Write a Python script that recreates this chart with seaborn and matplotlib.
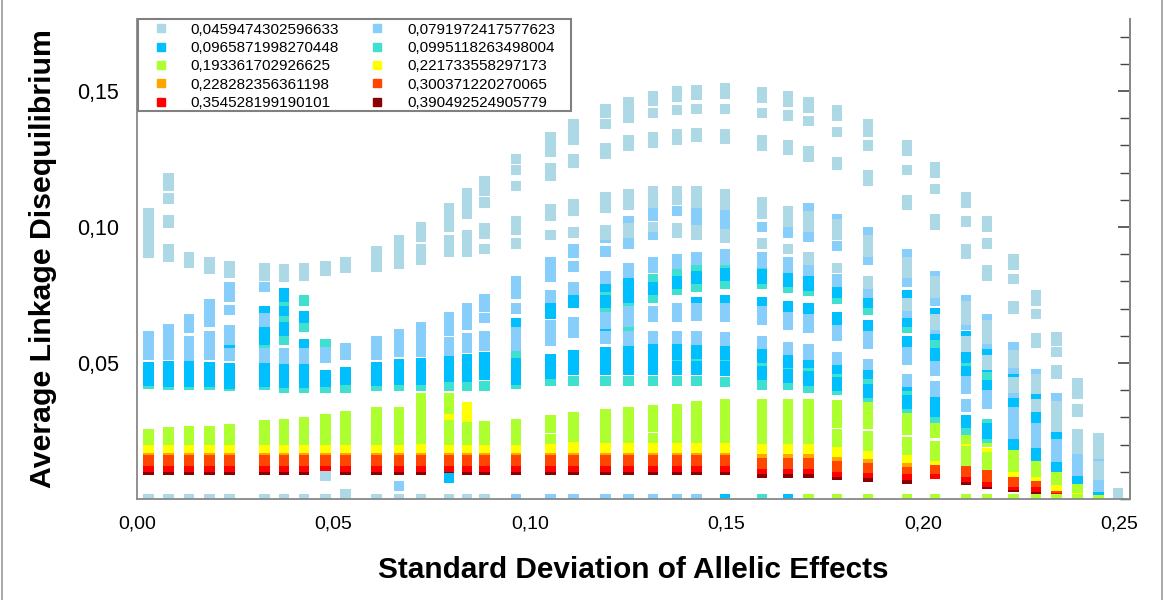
import matplotlib
matplotlib.use("Agg")
import matplotlib.pyplot as plt
from matplotlib import font_manager
from matplotlib.ticker import FixedLocator, MultipleLocator, FuncFormatter
from matplotlib.lines import Line2D
from matplotlib.patches import Rectangle
import pandas as pd
import seaborn as sns

# Standard deviation of allelic effects (one column of markers per value)
sd_effects = [0.0029, 0.0080, 0.0133, 0.0184, 0.0235, 0.0324, 0.0374, 0.0425, 0.0480, 0.0531,
              0.0609, 0.0667, 0.0723, 0.0794, 0.0840, 0.0884, 0.0965, 0.1052, 0.1111, 0.1192,
              0.1251, 0.1313, 0.1374, 0.1424, 0.1497, 0.1591, 0.1656, 0.1709, 0.1781, 0.1861,
              0.1960, 0.2031, 0.2110, 0.2163, 0.2231, 0.2288, 0.2340, 0.2393, 0.2447, 0.2497]

series_labels = ["0,0459474302596633", "0,0791972417577623", "0,0965871998270448",
                 "0,0995118263498004", "0,193361702926625", "0,221733558297173",
                 "0,228282356361198", "0,300371220270065", "0,354528199190101",
                 "0,390492524905779"]
series_colors = ["#ADD8E6", "#87CEFA", "#00BFFF", "#40E0D0", "#ADFF2F",
                 "#FFFF00", "#FFA500", "#FF4500", "#FF0000", "#8B0000"]

# Average linkage disequilibrium (x 1e-3), one list per SD column
ld_0459 = [[0, 105, 102, 98, 95, 92, 90.5], [0, 118, 115, 110.5, 102.5, 101.5, 92, 89], [0, 89, 87],
           [0, 87, 84.5], [0, 85.5, 83], [0, 85, 82], [0, 84.5, 81.7], [0, 85, 82], [0, 85.7, 84, 8.4],
           [0, 1.8, 87, 85], [0, 91, 88, 85.5], [0, 95, 92, 89, 86.5], [0, 100, 96.5, 92, 88],
           [0, 107, 103.5, 100, 95, 91], [0, 112.5, 109, 105, 97, 95, 91],
           [0, 117, 113.5, 109, 99.5, 97.5, 92], [125, 121, 115, 102, 99, 94],
           [133, 130, 127.5, 121.5, 119, 106.5, 104, 97], [138, 135.5, 132, 125, 123.5, 108.5, 106, 98],
           [143.5, 142, 138, 129, 127, 111, 108.5, 107, 99, 97], [146, 144, 140, 132, 130, 112, 110, 108, 99.5, 98],
           [148, 146.5, 142, 133, 131, 113, 110.5, 109, 100], [150, 148, 143, 134, 132, 113, 111, 110, 99.5, 98],
           [150.5, 148.5, 143.5, 134.5, 133, 113, 111, 109, 99, 97], [151, 149, 143.5, 134, 132.5, 112, 110, 108, 97.5, 96],
           [149.5, 147.5, 142, 132, 130, 109, 107, 105, 94], [148, 146, 141, 130, 128.5, 106, 103.5, 102, 92],
           [146, 144, 139, 128, 126, 104, 102, 100, 89, 88], [143, 141, 135, 124, 123, 101, 98, 97, 85],
           [138, 135, 130, 119, 117, 95, 92, 91, 80, 79], [130, 128, 121, 110, 108, 87, 84, 83, 72, 71],
           [122, 120, 114, 103, 101, 80, 77, 76, 66, 64], [111, 109, 102, 92, 90, 71, 68, 66, 58, 56],
           [102, 100, 94, 84, 82, 64, 61, 59, 51, 49.5], [88, 86, 81, 71, 70, 53, 51, 50, 43, 41],
           [75, 73, 68, 59, 57.5, 44, 42, 40.5, 35, 34], [59.5, 58, 54, 47.5, 46, 34, 31.5, 28, 26.5],
           [42.5, 40, 38.5, 33, 32, 24, 21.5, 18.5], [22.5, 19.5, 16.5, 12, 10, 9], [2, 0.8]]

ld_0792 = [[60, 57, 54, 53], [62.5, 59, 56, 53], [66, 63, 58, 55, 52.5], [71.5, 68, 65, 60, 56.5, 53],
           [78, 74.5, 69.5, 62, 58.5, 53.5, 52.5], [78, 66.5, 65, 53.5, 52], [53.5, 51.5], [53.5, 51.5],
           [54, 52], [55.5, 53], [58, 55.5, 53], [60.5, 57, 54, 4.8], [63, 60, 56.5, 54],
           [67, 64, 62, 57.5, 54.5], [70, 67, 64, 59, 55.5], [73.5, 70.5, 66.5, 60, 56.5],
           [0, 80, 77, 75.5, 70, 61.5, 58.5, 56.5], [0, 87, 85.5, 81.7, 75, 74, 64, 62, 58],
           [0, 92, 90.5, 85.5, 78, 77, 65, 62, 61], [0, 96, 91, 82, 81, 67, 64.5, 60, 59],
           [0, 102, 94, 85, 83, 69, 66, 65, 60, 58], [0, 105.5, 104, 97, 87, 85, 69, 67, 60, 59],
           [0, 106, 88, 86.5, 70, 67, 60, 59], [0, 106, 102, 89, 88, 70, 67.5, 60, 58.5],
           [105, 101, 90, 88, 70, 67, 59.5, 58], [100, 89, 87, 69, 66, 58, 57], [98, 87, 85, 67, 64, 56, 55],
           [107, 96.5, 85, 84, 66, 63, 55, 53], [103, 93, 81, 80, 62, 60, 52, 51],
           [98, 88, 76, 60, 57, 49.5], [90, 80, 68.5, 54, 51, 44, 43], [82, 73, 62.5, 49, 47, 41.5, 39.5],
           [73, 64, 43.5, 40.5, 35, 34], [66, 57, 38, 35], [56, 48, 39, 32, 29.5, 26, 24],
           [46, 26, 24, 20.5], [37, 20, 17, 15.5], [14.5, 12, 10.5], [14, 5.5, 4.5], []]

ld_0966 = [[48.5, 46, 43.5], [49, 46, 43], [49, 46, 43], [48.5, 46, 43], [56, 48, 45.5, 42.5],
           [69, 61.5, 58.5, 48, 45.5, 43], [75.8, 74.4, 69.2, 63, 62, 48, 45, 42.8],
           [67.4, 66.6, 56.8, 48.5, 45, 42.8], [45.4, 43], [46.5, 44], [48.5, 46, 43.5], [49.5, 47, 44],
           [50, 47, 44], [51, 48, 45, 7.7], [51.5, 48.5, 45], [52, 49, 45.5], [64.5, 50, 47, 44],
           [70, 68, 51.5, 48.5, 46], [73, 72, 53, 50, 47.5], [78, 73, 72, 62.5, 54, 51, 47.6],
           [80, 76, 74, 55, 52, 49, 47.5], [78, 77, 55, 52, 49, 47.5], [80, 79, 55, 53, 49, 47.5],
           [82, 81, 72.5, 56, 53.5, 49, 47.5], [0, 83, 82, 73, 55, 53, 48.7, 47],
           [82.5, 81, 72.5, 54, 52, 47, 45.5], [0, 81.5, 80, 71, 70, 52, 50, 46, 44.5],
           [80, 78.5, 70, 68.5, 51, 50, 45, 43.5], [78, 76, 67, 66, 49, 48, 43, 41.5],
           [73.5, 72, 64, 62.5, 46, 40.5, 39], [75, 66, 65, 58, 57, 41.8, 36.5, 35],
           [68.5, 60.5, 53.5, 51, 36.5, 33.5, 32], [60, 53, 52, 47, 45.5, 29, 28],
           [54, 48.5, 42, 41, 26, 24], [46, 36, 35, 21, 20], [38, 30, 29, 17, 16], [23.5, 12.5, 12],
           [8.5, 7.5], [3.5], []]

ld_0995 = [[42.5], [42], [42], [42], [41.5], [55.5, 42], [72, 66, 58.6, 41], [73, 63.4, 41],
           [56.8, 41], [41], [41.5], [41.5], [41.5], [41.5], [41.5], [41.5], [53.5, 42.5], [43.5],
           [43.5], [75, 70, 62, 43.5], [78, 71.5, 63, 43.5], [81, 74, 43.5], [83, 77, 51, 43.5],
           [85, 78, 51, 43.5], [85.5, 79, 51, 43], [0, 84, 79, 50, 42], [77.5, 49, 42],
           [76.5, 48.5, 41], [73.5, 46, 40], [69.5, 44, 37.5], [63, 40, 33.5], [57, 35.5, 30],
           [50.5, 25.6], [45.5, 27.5, 22.5], [38.5], [], [], [], [], []]

ld_1934 = [[24, 21.6], [24.5, 21.6], [24.8, 21.6], [25, 21.6], [25.6, 23, 21.6], [27, 24, 21.6],
           [27.5, 24.5, 21.6], [28.2, 25, 21.6], [29.3, 26.4, 23.5, 21.6], [30.4, 27.5, 24.5, 21.6],
           [32, 29, 26, 23, 21.6], [32, 29, 26, 23, 21.6], [37, 34, 31, 28, 25, 22],
           [37, 33, 27, 24, 21.6], [26.5, 23.5, 21.6], [26.8, 23.5, 21.6], [27.5, 24.5, 21.6],
           [29, 26, 22], [30, 27, 23], [31, 28, 25, 22.5], [32, 29, 26, 22.5], [32.5, 29.5, 26.5, 22.5],
           [33, 30, 27, 24, 22.5], [34, 31, 28, 25, 22.5], [35, 32, 29, 26, 22.5],
           [35, 32, 28.5, 25, 22], [35, 32, 28.5, 25, 22], [0, 35, 32, 28.5, 25, 22],
           [0, 34.5, 31.5, 28, 24, 21], [0, 34, 31, 27.5, 23, 19.5], [0, 32, 29, 25.5, 21, 18],
           [0, 28, 24.5, 19.4, 16], [0, 24.5, 22, 17.5, 14], [0, 21, 15.5, 12.5], [0, 17, 13.5, 12],
           [0, 12.5, 10], [0, 9, 7], [0, 5, 4], [0, 2.2], []]

ld_2217 = [[19], [19], [19], [19], [19], [19], [19], [19], [19], [19], [19], [19], [19],
           [29.3, 19], [33.7, 31, 29.5, 19], [19], [19], [19], [19], [19], [19], [19], [19], [19],
           [19], [18.5], [18.5], [18.5], [17.5], [16.5], [15], [14.3], [19], [17], [10], [8.5], [5],
           [2.5], [], []]

ld_2283 = [[18], [18], [18], [18], [18], [18], [18], [18], [18], [18], [18], [18], [18], [18],
           [18], [18], [18], [18], [18], [18], [18], [18], [18], [18], [18], [17], [17], [17], [16],
           [15], [13.5], [], [], [], [], [], [], [], [], []]

ld_3004 = [[15.4, 14], [15.4, 14], [15.4, 14], [15.4, 14], [15.4, 14], [15.4, 14], [15.4, 14],
           [15.4, 14], [15.4, 14], [15.4, 14], [15.4, 14], [15.4, 14], [15.4, 14], [15.4, 14],
           [15.4, 14], [15.4, 14], [15.4, 14], [15.4, 14], [15.4, 14], [15.4, 14], [15.4, 14],
           [15.4, 14], [15.4, 14], [15.4, 14], [15.4, 14], [14.5, 13], [14.5, 13], [14.5, 13],
           [14, 12], [13.5, 11.5], [12, 11], [11], [11.5, 10], [9.5, 8], [7.5, 6.5], [6.5], [4],
           [2.2], [], []]

ld_3545 = [[11.7], [11.7], [11.7], [11.7], [11.7], [11.7], [11.7], [11.7], [11.7], [11.7], [11.7],
           [11.7], [11.7], [11.7], [11.7], [11.7], [11.7], [11.7], [11.7], [11.7], [11.7], [11.7],
           [11.7], [11.7], [11.7], [11], [11], [11], [10], [9.5], [8.8], [9.2], [8], [6.4], [5.2],
           [4.5], [3], [1.2], [], []]

ld_3905 = [[10.6], [10.6], [10.6], [10.6], [10.6], [10.6], [10.6], [10.6], [10.6], [10.6], [10.6],
           [10.6], [10.6], [10.6], [10.6], [10.6], [10.6], [10.6], [10.6], [10.6], [10.6], [10.6],
           [10.6], [10.6], [10.6], [9.8], [9.8], [9.8], [8.8], [8], [7.3], [], [7], [5.7], [4.5],
           [3.5], [], [], [], []]

series_values = [ld_0459, ld_0792, ld_0966, ld_0995, ld_1934,
                 ld_2217, ld_2283, ld_3004, ld_3545, ld_3905]

# Long-format table; the last series in the legend is painted first
rows = []
for label, columns in zip(series_labels[::-1], series_values[::-1]):
    for sd, column in zip(sd_effects, columns):
        for v in column:
            rows.append((sd, v / 1000.0, label))
df = pd.DataFrame(rows, columns=["sd", "ld", "series"])

sns.set_style("white")
installed = {f.name for f in font_manager.fontManager.ttflist}
narrow = "Liberation Sans Narrow" if "Liberation Sans Narrow" in installed else "Liberation Sans"
plt.rcParams["font.family"] = ["Liberation Sans", "DejaVu Sans"]
plt.rcParams["text.color"] = "black"
plt.rcParams["axes.labelcolor"] = "black"
plt.rcParams["xtick.color"] = "black"
plt.rcParams["ytick.color"] = "black"

fig = plt.figure(figsize=(11.65, 6.0), dpi=100)
ax = fig.add_axes([137 / 1165, 101 / 600, 993 / 1165, 480 / 600])

sns.scatterplot(data=df, x="sd", y="ld", hue="series",
                palette=dict(zip(series_labels, series_colors)),
                marker="s", s=56, linewidth=0,
                legend=False, ax=ax)

ax.set_xlim(0, 0.2527)
ax.set_ylim(0, 0.1765)

comma = FuncFormatter(lambda v, _: f"{v:.2f}".replace(".", ","))
ax.xaxis.set_major_locator(MultipleLocator(0.05))
ax.xaxis.set_minor_locator(MultipleLocator(0.01))
ax.yaxis.set_major_locator(FixedLocator([0.05, 0.10, 0.15]))
ax.yaxis.set_minor_locator(MultipleLocator(0.01))
ax.xaxis.set_major_formatter(comma)
ax.yaxis.set_major_formatter(comma)

ax.tick_params(axis="x", which="major", direction="inout", length=14, width=1.2,
               color="#444444", labelcolor="black", pad=5, labelsize=14)
ax.tick_params(axis="x", which="minor", direction="inout", length=8, width=1,
               color="#444444")
ax.tick_params(axis="y", which="major", direction="inout", length=14, width=1.2,
               color="#444444", labelcolor="black", pad=6, labelsize=15.5)
ax.tick_params(axis="y", which="minor", direction="inout", length=8, width=1,
               color="#444444")
for lab in ax.get_xticklabels():
    lab.set_family([narrow, "Liberation Sans"])

right = ax.secondary_yaxis("right")
right.yaxis.set_major_locator(FixedLocator([0.05, 0.10, 0.15]))
right.yaxis.set_minor_locator(MultipleLocator(0.01))
right.tick_params(which="major", direction="in", length=9, width=1.2, color="#444444",
                  labelright=False)
right.tick_params(which="minor", direction="in", length=7, width=1, color="#444444")
right.spines["right"].set_color("#888888")
right.spines["right"].set_linewidth(1.3)

for side in ["left", "bottom", "right"]:
    ax.spines[side].set_color("#888888")
    ax.spines[side].set_linewidth(1.3)
ax.spines["top"].set_visible(False)

ax.set_xlabel("Standard Deviation of Allelic Effects", fontsize=21.4, fontweight="bold",
              labelpad=17)
ax.set_ylabel("Average Linkage Disequilibrium", fontsize=21.8, fontweight="bold", labelpad=14)

# Legend in two columns, filled row by row, inside a plain framed box
ax.add_patch(Rectangle((0.001, 0.808), 0.436, 0.192, transform=ax.transAxes,
                       facecolor="white", edgecolor="#808080", linewidth=1.5,
                       zorder=4, clip_on=False))
handles = [Line2D([], [], marker="s", linestyle="", markersize=6,
                  markerfacecolor=c, markeredgecolor=c) for c in series_colors]
order = [0, 2, 4, 6, 8, 1, 3, 5, 7, 9]
ax.legend([handles[i] for i in order], [series_labels[i] for i in order], ncol=2,
          loc="upper left", bbox_to_anchor=(0.0, 1.0), borderaxespad=0, frameon=False,
          fontsize=11, handlelength=2.6, handletextpad=0.66, columnspacing=1.2,
          borderpad=0.25, labelspacing=0.28)

# Thin frame lines at the left and right edges of the image
fig.add_artist(Line2D([0.0015, 0.0015], [0, 1], transform=fig.transFigure,
                      color="#999999", linewidth=1.2))
fig.add_artist(Line2D([0.9975, 0.9975], [0, 1], transform=fig.transFigure,
                      color="#999999", linewidth=1.2))

fig.savefig("out.png", dpi=100)
